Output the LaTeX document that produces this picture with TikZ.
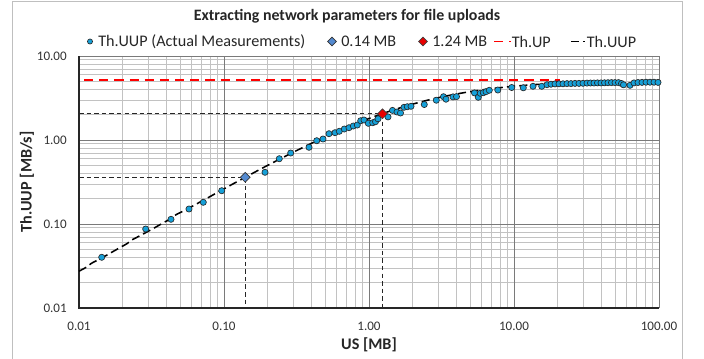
\documentclass[tikz,border=0pt]{standalone}
\usepackage{fontspec}
\setmainfont{Carlito}
\usetikzlibrary{shapes.geometric}
\definecolor{measblue}{RGB}{22,160,216}
\definecolor{diablue}{RGB}{84,138,208}
\definecolor{diared}{RGB}{232,0,0}
\definecolor{thred}{RGB}{255,0,0}
\definecolor{frame}{RGB}{191,191,191}
\begin{document}
\begin{tikzpicture}[x=0.025cm,y=-0.025cm,
  minorgrid/.style={draw=black!24,line width=0.55pt},
  majorgrid/.style={draw=black!52,line width=0.6pt},
  axisline/.style={draw=black!85,line width=0.75pt},
  meas/.style={circle,draw=black!85,fill=measblue,line width=0.45pt,inner sep=0pt,minimum size=4.4pt},
  diam/.style={diamond,draw=black!80,line width=0.45pt,inner sep=0pt,minimum width=7.2pt,minimum height=7.2pt},
  refdash/.style={draw=black!85,line width=0.95pt,dash pattern=on 3.2pt off 2.2pt},
  uupcurve/.style={draw=black,line width=1.1pt,dash pattern=on 5.8pt off 3pt},
  upline/.style={draw=thred,line width=1.2pt,dash pattern=on 6.5pt off 4.3pt},
  ticklab/.style={font=\fontsize{9.3}{11}\selectfont,text=black!80,inner sep=0pt},
  axtitle/.style={font=\fontsize{11.5}{13}\selectfont\bfseries,text=black!85,inner sep=0pt},
  legtext/.style={font=\fontsize{11.5}{13}\selectfont,text=black!85,inner sep=0pt,anchor=west}]
\useasboundingbox (0,0) rectangle (704,358);
\fill[white] (0,0) rectangle (704,358);
\begin{scope}
\clip (0,0) rectangle (704,358);
\draw[frame,line width=0.6pt] (12,1) rectangle (682.5,370);
\end{scope}
% grid
\foreach \d in {0,1,2,3}{
  \foreach \k in {2,...,9}{
    \draw[minorgrid] ({79+145*(\d+log10(\k))},56) -- ({79+145*(\d+log10(\k))},308);
  }
}
\foreach \d in {0,1,2}{
  \foreach \k in {2,...,9}{
    \draw[minorgrid] (79,{308-84*(\d+log10(\k))}) -- (659,{308-84*(\d+log10(\k))});
  }
}
\foreach \d in {1,2,3,4}{
  \draw[majorgrid] ({79+145*\d},56) -- ({79+145*\d},308);
}
\foreach \d in {1,2,3}{
  \draw[majorgrid] (79,{308-84*\d}) -- (659,{308-84*\d});
}
\draw[axisline] (79,56) -- (79,308) -- (659,308);
% tick labels
\foreach \lab [count=\i from 0] in {0.01,0.10,1.00,10.00}{
  \node[ticklab,anchor=east] (yt\i) at (67,{308-84*\i}) {\lab};
}
\foreach \lab [count=\i from 0] in {0.01,0.10,1.00,10.00,100.00}{
  \node[ticklab] (xt\i) at ({79+145*\i},326) {\lab};
}
\node[axtitle] (xtitle) at (369,345) {US [MB]};
\node[axtitle,rotate=90] (ytitle) at (27,182) {Th.UUP [MB/s]};
\node[font=\fontsize{11.3}{13}\selectfont\bfseries,text=black!85,inner sep=0pt] (title) at (347,16) {Extracting network parameters for file uploads};
% reference lines
\coordinate (p1) at (245.2,177.3);
\coordinate (p2) at (382.5,113.8);
\coordinate (ya) at (79,177.3);
\coordinate (yb) at (79,113.8);
\coordinate (xa) at (245.2,308);
\coordinate (xb) at (382.5,308);
\draw[refdash] (ya) -- (p1) -- (xa);
\draw[refdash] (yb) -- (p2) -- (xb);
% theoretical curves
\coordinate (r0) at (84,80);
\coordinate (r1) at (560,80);
\draw[upline] (r0) -- (r1);
\draw[uupcurve] plot[domain=-2:1.32,samples=120,smooth]
  ({79+145*(\x+2)},{308-84*(log10(pow(10,\x)/(0.362+pow(10,\x)/5.18))+2)});
% measurements
\foreach \px/\py [count=\i] in {
101.7/257.3,145.7/229,171/219.3,189/209,203.3/202.3,221.7/190.7,
265/172.3,279.3/158.7,290.7/153,309/147.3,316.7/140.7,323/139,329/133.7,335/132.7,339.3/131.3,344.3/129,349/127.7,353.3/126,357.3/125,360.7/120.7,364/120,368.3/123.3,372.7/122.7,375.5/121.7,378/118.8,
388/116.9,392.5/110.4,397/112,400.5/113,404/107.3,407.3/106.7,411/106.3,424.3/104.5,436.3/100.2,443.5/96.7,446/99.2,453/96.9,456.5/96.6,
474.5/92.9,478.3/97.3,480.3/93.3,483.3/92.7,486/91.7,489.3/90.3,497.8/90,511.7/87.5,523.3/87.8,533/86.3,541.7/86.3,547/84.7,
551/84.2,555/83.9,559/83.8,563/83.8,567/83.6,571/83.6,575/83.4,579/83.4,583/83.3,587/83.1,590.5/83,594/83,597.5/82.9,601/82.9,604.5/82.8,608/82.7,611.5/82.6,615/82.6,618.5/82.6,
621.5/83.5,623.5/84.8,630/85.3,634/82.9,638/82.5,642/82.4,646/82.2,650/82.2,654/82.2,658/82.4}{
  \node[meas] (m\i) at (\px,\py) {};
}
\node[diam,fill=diablue] (d1) at (p1) {};
\node[diam,fill=diared,draw=black!75] (d2) at (p2) {};
% legend
\node[meas,minimum size=3.6pt] (lg1) at (90,41.5) {};
\node[legtext] (lt1) at (98,41.5) {Th.UUP (Actual Measurements)};
\node[diam,fill=diablue,minimum width=6.4pt,minimum height=6.4pt] (lg2) at (332,41.5) {};
\node[legtext] (lt2) at (341,41.5) {0.14 MB};
\node[diam,fill=diared,draw=black!75,minimum width=6.4pt,minimum height=6.4pt] (lg3) at (423,41.5) {};
\node[legtext] (lt3) at (432,41.5) {1.24 MB};
\coordinate (lr0) at (494,41.5);
\coordinate (lr1) at (510.5,41.5);
\draw[upline] (lr0) -- (lr1);
\node[legtext] (lt4) at (511.5,41.5) {Th.UP};
\coordinate (lb0) at (571,41.5);
\coordinate (lb1) at (585,41.5);
\draw[uupcurve] (lb0) -- (lb1);
\node[legtext] (lt5) at (586.5,41.5) {Th.UUP};
\end{tikzpicture}
\end{document}
